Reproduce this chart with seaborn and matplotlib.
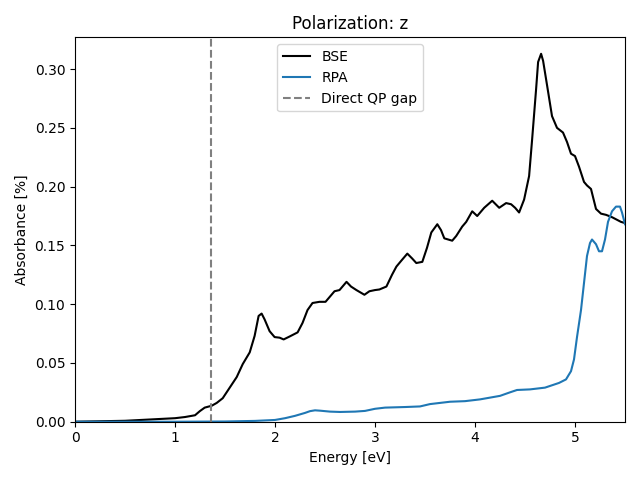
import matplotlib
matplotlib.use("Agg")
import matplotlib.pyplot as plt
import seaborn as sns

# Espectros de absorción (polarización z)
bse_e = [0.0, 0.5, 1.0, 1.1, 1.2, 1.248, 1.297, 1.367, 1.417, 1.477, 1.547,
         1.617, 1.677, 1.747, 1.796, 1.836, 1.866, 1.896, 1.946, 1.996, 2.046,
         2.086, 2.146, 2.226, 2.275, 2.325, 2.375, 2.445, 2.505, 2.545, 2.595,
         2.645, 2.715, 2.76, 2.814, 2.894, 2.944, 3.0, 3.044, 3.114, 3.17,
         3.214, 3.263, 3.323, 3.37, 3.413, 3.473, 3.52, 3.563, 3.623, 3.66,
         3.693, 3.772, 3.812, 3.872, 3.912, 3.972, 4.022, 4.092, 4.172, 4.242,
         4.311, 4.361, 4.401, 4.441, 4.491, 4.541, 4.571, 4.611, 4.631, 4.661,
         4.681, 4.721, 4.770, 4.820, 4.880, 4.920, 4.960, 5.000, 5.040, 5.090,
         5.120, 5.16, 5.21, 5.26, 5.31, 5.37, 5.46, 5.5]
bse_abs = [0.0, 0.0008, 0.003, 0.004, 0.0055, 0.009, 0.012, 0.0136, 0.016,
           0.020, 0.029, 0.038, 0.049, 0.059, 0.073, 0.090, 0.092, 0.087,
           0.077, 0.072, 0.0715, 0.070, 0.0725, 0.076, 0.084, 0.095, 0.101,
           0.102, 0.102, 0.106, 0.111, 0.112, 0.119, 0.115, 0.112, 0.108,
           0.111, 0.112, 0.1125, 0.115, 0.125, 0.132, 0.137, 0.143, 0.139,
           0.135, 0.136, 0.148, 0.161, 0.168, 0.163, 0.156, 0.154, 0.158,
           0.166, 0.170, 0.179, 0.175, 0.182, 0.188, 0.182, 0.186, 0.185,
           0.182, 0.178, 0.189, 0.209, 0.240, 0.283, 0.306, 0.313, 0.307,
           0.286, 0.260, 0.250, 0.246, 0.238, 0.228, 0.226, 0.217, 0.204,
           0.201, 0.198, 0.181, 0.177, 0.176, 0.174, 0.170, 0.169]

rpa_e = [0.0, 0.5, 1.0, 1.5, 1.8, 2.0, 2.1, 2.2, 2.3, 2.35, 2.4, 2.45, 2.55,
         2.65, 2.8, 2.9, 3.0, 3.1, 3.3, 3.45, 3.55, 3.65, 3.75, 3.9, 4.05, 4.15,
         4.25, 4.35, 4.42, 4.55, 4.7, 4.84, 4.91, 4.96, 4.99, 5.02, 5.06, 5.09,
         5.12, 5.15, 5.17, 5.21, 5.24, 5.27, 5.30, 5.33, 5.37, 5.41, 5.45,
         5.47, 5.5]
rpa_abs = [0.0, 0.0, 0.0, 0.0002, 0.0007, 0.0015, 0.003, 0.005, 0.0075, 0.009,
           0.0097, 0.0094, 0.0086, 0.0083, 0.0086, 0.0092, 0.011, 0.012, 0.0125,
           0.013, 0.015, 0.016, 0.017, 0.0175, 0.019, 0.0205, 0.022, 0.025,
           0.027, 0.0275, 0.029, 0.033, 0.036, 0.043, 0.053, 0.072, 0.095,
           0.118, 0.141, 0.152, 0.155, 0.151, 0.145, 0.145, 0.155, 0.170,
           0.179, 0.183, 0.183, 0.178, 0.168]

qp_gap = 1.357

fig, ax = plt.subplots(figsize=(6.4, 4.8), dpi=100)
sns.lineplot(x=bse_e, y=bse_abs, color="black", label="BSE", estimator=None, ax=ax)
sns.lineplot(x=rpa_e, y=rpa_abs, color="#1f77b4", label="RPA", estimator=None, ax=ax)
ax.axvline(qp_gap, color="gray", linestyle="--", label="Direct QP gap")
ax.set_xlim(0, 5.5)
ax.set_ylim(0, 0.327)
ax.set_xlabel("Energy [eV]")
ax.set_ylabel("Absorbance [%]")
ax.set_title("Polarization: z")
ax.legend(loc="upper center")
plt.tight_layout()
plt.savefig("out.png", dpi=100)
plt.close()
